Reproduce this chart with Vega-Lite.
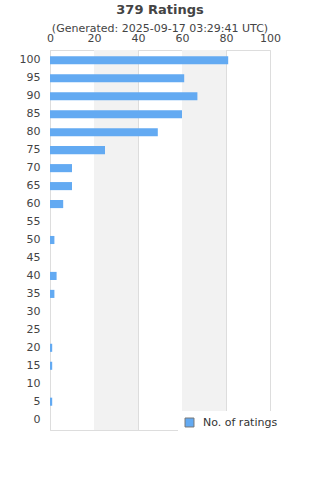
{
  "$schema": "https://vega.github.io/schema/vega-lite/v6.json",
  "autosize": {"type": "none"},
  "width": 220,
  "height": 380,
  "padding": {"left": 50, "top": 50, "right": 50, "bottom": 50},
  "background": "white",
  "config": {
    "font": "DejaVu Sans",
    "view": {"stroke": "#dddddd", "strokeWidth": 1}
  },
  "title": {
    "text": "379 Ratings",
    "subtitle": "(Generated: 2025-09-17 03:29:41 UTC)",
    "anchor": "middle",
    "fontSize": 13,
    "fontWeight": "bold",
    "color": "#444444",
    "subtitleFontSize": 11,
    "subtitleColor": "#444444",
    "subtitlePadding": 6,
    "offset": -2
  },
  "datasets": {
    "ratings": [
      {"rating": 100, "count": 81},
      {"rating": 95, "count": 61},
      {"rating": 90, "count": 67},
      {"rating": 85, "count": 60},
      {"rating": 80, "count": 49},
      {"rating": 75, "count": 25},
      {"rating": 70, "count": 10},
      {"rating": 65, "count": 10},
      {"rating": 60, "count": 6},
      {"rating": 55, "count": 0},
      {"rating": 50, "count": 2},
      {"rating": 45, "count": 0},
      {"rating": 40, "count": 3},
      {"rating": 35, "count": 2},
      {"rating": 30, "count": 0},
      {"rating": 25, "count": 0},
      {"rating": 20, "count": 1},
      {"rating": 15, "count": 1},
      {"rating": 10, "count": 0},
      {"rating": 5, "count": 1},
      {"rating": 0, "count": 0}
    ],
    "bands": [
      {"start": 20, "end": 40},
      {"start": 60, "end": 80}
    ]
  },
  "layer": [
    {
      "data": {"name": "bands"},
      "mark": {"type": "rect", "color": "#f2f2f2"},
      "encoding": {
        "x": {"field": "start", "type": "quantitative", "scale": {"domain": [0, 100]}},
        "x2": {"field": "end"}
      }
    },
    {
      "data": {"name": "ratings"},
      "mark": {"type": "bar"},
      "encoding": {
        "y": {
          "field": "rating",
          "type": "ordinal",
          "sort": "descending",
          "scale": {"paddingInner": 0.55, "paddingOuter": 0.35},
          "axis": {
            "title": null,
            "ticks": false,
            "domainColor": "#dddddd",
            "labelColor": "#444444",
            "labelFontSize": 11,
            "labelPadding": 10
          }
        },
        "x": {
          "field": "count",
          "type": "quantitative",
          "scale": {"domain": [0, 100], "nice": false},
          "axis": {
            "orient": "top",
            "title": null,
            "values": [0, 20, 40, 60, 80, 100],
            "ticks": false,
            "domain": false,
            "grid": true,
            "gridColor": "#dddddd",
            "labelColor": "#444444",
            "labelFontSize": 11,
            "labelPadding": 7,
            "labelFlush": false
          }
        },
        "color": {
          "datum": "No. of ratings",
          "type": "nominal",
          "scale": {"range": ["#63aaf2"]},
          "legend": {
            "title": null,
            "orient": "none",
            "legendX": 128,
            "legendY": 361,
            "fillColor": "white",
            "padding": 6,
            "symbolType": "square",
            "symbolSize": 80,
            "symbolStrokeColor": "#777777",
            "symbolStrokeWidth": 1,
            "labelFontSize": 11,
            "labelColor": "#333333",
            "labelOffset": 8
          }
        }
      }
    }
  ]
}
